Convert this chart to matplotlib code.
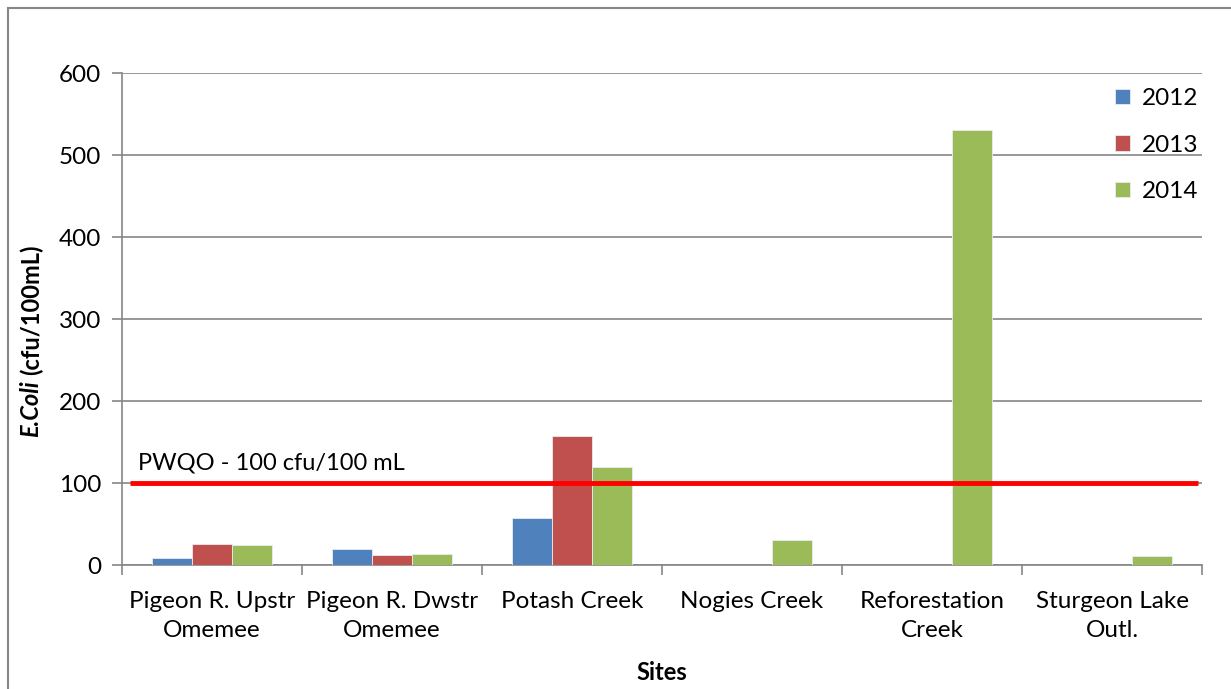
import numpy as np
import matplotlib
matplotlib.use("Agg")
import matplotlib.pyplot as plt
from matplotlib.patches import Rectangle

plt.rcParams['font.family'] = ['Lato', 'DejaVu Sans']

# E. coli geometric means per site and year
sites = ['Pigeon R. Upstr\nOmemee', 'Pigeon R. Dwstr\nOmemee', 'Potash Creek',
         'Nogies Creek', 'Reforestation\nCreek', 'Sturgeon Lake\nOutl.']
years = ['2012', '2013', '2014']
vals_2012 = [8, 20, 57, 0, 0, 0]
vals_2013 = [26, 12, 157, 0, 0, 0]
vals_2014 = [25, 13, 120, 31, 531, 11]
pwqo = 100
colors = ['#4F81BD', '#C0504D', '#9BBB59']

fig = plt.figure(figsize=(12.31, 6.89), dpi=100)
ax = fig.add_axes([122 / 1231, 124 / 689, 1080 / 1231, 492 / 689])

# outer chart frame
fig.patches.append(Rectangle((8 / 1231, -0.1), 1.2, (681 / 689) + 0.1,
                             transform=fig.transFigure, fill=False,
                             edgecolor='#868686', linewidth=1.5))

x = np.arange(len(sites))
w = 0.2222
for i, (yr, vals) in enumerate(zip(years, [vals_2012, vals_2013, vals_2014])):
    ax.bar(x + (i - 1) * w, vals, width=w, color=colors[i], label=yr,
           edgecolor='#e8ecf2', linewidth=0.6, zorder=3)

# guideline
ax.plot([-0.456, 5.478], [pwqo, pwqo], color='#FF0000', linewidth=3.5,
        solid_capstyle='butt', zorder=4)
ax.text(-0.41, pwqo + 24, 'PWQO - 100 cfu/100 mL', fontsize=17,
        va='center', ha='left', zorder=5)

ax.set_xlim(-0.5, len(sites) - 0.5)
ax.set_ylim(0, 600)
ax.set_yticks(np.arange(0, 601, 100))
ax.yaxis.grid(True, color='#868686', linewidth=1.2, zorder=0)
ax.set_axisbelow(True)

ax.set_xticks(x)
ax.set_xticklabels(sites, fontsize=17.5, linespacing=1.45)
ax.set_xticks(np.arange(-0.5, len(sites)), minor=True)
ax.tick_params(axis='x', which='major', length=0, pad=19)
ax.tick_params(axis='x', which='minor', length=7, color='#868686', width=1.2)
ax.tick_params(axis='y', length=7, color='#868686', width=1.2,
               labelsize=17.5, pad=8)

for s in ['top', 'right']:
    ax.spines[s].set_visible(False)
for s in ['left', 'bottom']:
    ax.spines[s].set_color('#868686')
    ax.spines[s].set_linewidth(1.2)

fig.text(662 / 1231, 1 - 672 / 689, 'Sites', fontsize=17, fontweight='bold',
         ha='center', va='center')

# y label: italic species name followed by units
fig.canvas.draw()
r = fig.canvas.get_renderer()
t1 = fig.text(31 / 1231, 1 - 437 / 689, 'E.Coli', rotation=90, fontsize=17,
              fontweight='bold', style='italic', ha='center', va='bottom')
bb = t1.get_window_extent(r)
fig.text(31 / 1231, (bb.y1 + 5) / 689, '(cfu/100mL)', rotation=90,
         fontsize=17, fontweight='bold', ha='center', va='bottom')

ax.legend(loc='upper left', bbox_to_anchor=(1115 / 1231, 1 - 88 / 689),
          bbox_transform=fig.transFigure, frameon=False, fontsize=17.5,
          handlelength=0.6, handleheight=0.6, handletextpad=0.5,
          labelspacing=1.05, borderaxespad=0, borderpad=0)

fig.savefig('out.png', dpi=100)
